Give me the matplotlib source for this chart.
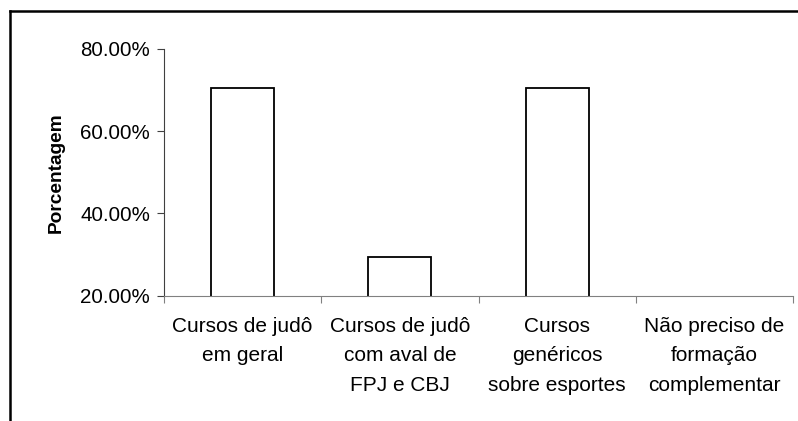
import matplotlib
matplotlib.use("Agg")
import matplotlib.pyplot as plt
from matplotlib.lines import Line2D
import numpy as np

categories = ["Cursos de judô\nem geral",
              "Cursos de judô\ncom aval de\nFPJ e CBJ",
              "Cursos\ngenéricos\nsobre esportes",
              "Não preciso de\nformação\ncomplementar"]
values = [70.59, 29.41, 70.59, 0.0]
yticks = [20, 40, 60, 80]
ytick_labels = ["20.00%", "40.00%", "60.00%", "80.00%"]

plt.rcParams['font.family'] = ['Liberation Sans', 'DejaVu Sans']

fig = plt.figure(figsize=(7.98, 4.21), dpi=100)
ax = fig.add_axes([164/798, 1-295.7/421, (793-164)/798, (295.7-49)/421])

x = np.arange(len(categories))
ax.bar(x, values, width=0.4, color='white', edgecolor='black', linewidth=1.3, zorder=2)

ax.set_xlim(-0.5, len(categories)-0.5)
ax.set_ylim(20, 80)
ax.set_yticks(yticks)
ax.set_yticklabels(ytick_labels, fontsize=14.8)

ax.set_xticks(np.arange(-0.5, len(categories), 1.0))
ax.set_xticklabels([])
ax.set_xticks(x, minor=True)
ax.set_xticklabels(categories, minor=True, fontsize=15, linespacing=1.7)
ax.tick_params(axis='x', which='minor', length=0, pad=15)
ax.tick_params(axis='x', which='major', length=5, direction='out', color='#808080')
ax.tick_params(axis='y', length=5, direction='out', color='#404040', pad=5)

for s in ['top', 'right']:
    ax.spines[s].set_visible(False)
ax.spines['left'].set_color('#404040')
ax.spines['bottom'].set_color('#808080')
ax.spines['bottom'].set_zorder(3)

ax.set_ylabel("Porcentagem", fontsize=13.8, fontweight='bold', labelpad=11)

# figure border (partially visible)
fig.add_artist(Line2D([9.5/798, 1.0], [1-10.5/421, 1-10.5/421], color='black', linewidth=1.8, transform=fig.transFigure))
fig.add_artist(Line2D([9.5/798, 9.5/798], [0.0, 1-10.5/421], color='black', linewidth=1.8, transform=fig.transFigure))

fig.savefig("out.png", dpi=100, facecolor='white')
